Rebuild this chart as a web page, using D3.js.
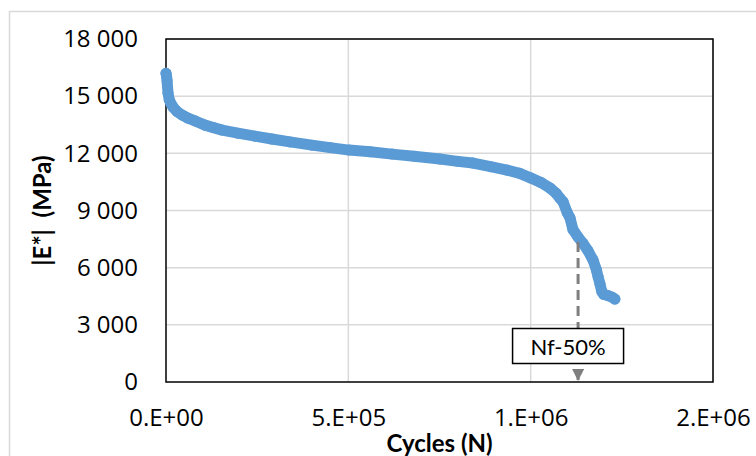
<!DOCTYPE html>
<html>
<head>
<meta charset="utf-8">
<script src="https://cdn.jsdelivr.net/npm/d3@7"></script>
<style>
  body { margin: 0; background: #fff; }
  .tick text { font-family: "Open Sans", sans-serif; font-size: 24px; fill: #000; }
  .title { font-family: Lato, "Open Sans", sans-serif; font-weight: bold; font-size: 24px; fill: #000; }
</style>
</head>
<body>
<div id="chart"></div>
<script>
// values
var cycles = [0, 1500, 3000, 5500, 9000, 14000, 19000, 30000, 45000, 60000, 80000, 107000,
    130000, 154000, 197000, 244000, 290000, 340000, 400000, 450000, 502000, 560000, 620000,
    680000, 751000, 800000, 842000, 890000, 935000, 970000, 1001000, 1030000, 1053000,
    1070000, 1080000, 1089000, 1100000, 1108000, 1116000, 1130000, 1143000, 1157000,
    1171000, 1180000, 1185000, 1190000, 1195000, 1200000, 1210000, 1223000, 1231000];
var modulus = [16200, 16050, 15800, 15160, 14800, 14600, 14430, 14200, 14000, 13850, 13700, 13480,
    13350, 13220, 13060, 12900, 12750, 12600, 12430, 12300, 12170, 12080, 11960,
    11850, 11700, 11580, 11490, 11300, 11120, 10950, 10700, 10450, 10180,
    9900, 9650, 9450, 8900, 8600, 8000, 7600, 7290, 6900,
    6400, 5900, 5510, 5150, 4750, 4600, 4550, 4450, 4350];

var xTicks = [0, 500000, 1000000, 1500000];
var yTicks = [0, 3000, 6000, 9000, 12000, 15000, 18000];

var nf50Cycles = 1130000, nf50From = 7350;
var nf50Label = "Nf-50%";

var data = cycles.map(function (c, i) { return { n: c, e: modulus[i] }; });

var svg = d3.select("#chart").append("svg")
    .attr("width", 756)
    .attr("height", 456),
    margin = { top: 39, right: 43, bottom: 74, left: 166 },
    width = 756 - margin.left - margin.right,
    height = 456 - margin.top - margin.bottom;

// outer chart frame
svg.append("rect")
    .attr("x", 9.5).attr("y", 11.5)
    .attr("width", 800).attr("height", 500)
    .attr("fill", "none")
    .attr("stroke", "#d9d9d9")
    .attr("stroke-width", 1.5);

var x = d3.scaleLinear().domain([0, 1500000]).range([0, width]),
    y = d3.scaleLinear().domain([0, 18000]).range([height, 0]);

var loc = d3.formatLocale({ decimal: ".", thousands: " ", grouping: [3], currency: ["", ""] });
var yFmt = loc.format(",");

// Excel style 0.E+00
function sci(v) {
    if (v === 0) return "0.E+00";
    var ex = Math.floor(Math.log10(v)), m = Math.round(v / Math.pow(10, ex));
    if (m === 10) { m = 1; ex++; }
    return m + ".E+" + (ex < 10 ? "0" : "") + ex;
}

var g = svg.append("g")
    .attr("transform", "translate(" + margin.left + "," + margin.top + ")");

// grid
g.append("g")
    .selectAll("line.h").data(yTicks.slice(1)).enter().append("line")
    .attr("x1", 0).attr("x2", width)
    .attr("y1", function (d) { return y(d); }).attr("y2", function (d) { return y(d); })
    .attr("stroke", "#d9d9d9").attr("stroke-width", 1.5);
g.append("g")
    .selectAll("line.v").data(xTicks.slice(1)).enter().append("line")
    .attr("y1", 0).attr("y2", height)
    .attr("x1", function (d) { return x(d); }).attr("x2", function (d) { return x(d); })
    .attr("stroke", "#d9d9d9").attr("stroke-width", 1.5);

// axes (labels only)
var yAxis = g.append("g")
    .call(d3.axisLeft(y).tickValues(yTicks).tickFormat(yFmt).tickSize(0).tickPadding(28));
yAxis.select(".domain").remove();

var xAxis = g.append("g")
    .attr("transform", "translate(0," + height + ")")
    .call(d3.axisBottom(x).tickValues(xTicks).tickFormat(sci).tickSize(0).tickPadding(27));
xAxis.select(".domain").remove();

// plot frame
g.append("rect")
    .attr("width", width).attr("height", height)
    .attr("fill", "none")
    .attr("stroke", "#000")
    .attr("stroke-width", 1.5);

// series: dense markers
var line = d3.line()
    .x(function (d) { return x(d.n); })
    .y(function (d) { return y(d.e); });

g.append("path")
    .datum(data)
    .attr("d", line)
    .attr("fill", "none")
    .attr("stroke", "#5b9bd5")
    .attr("stroke-width", 11)
    .attr("stroke-linejoin", "round")
    .attr("stroke-linecap", "round");

g.selectAll("circle").data(data).enter().append("circle")
    .attr("cx", function (d) { return x(d.n); })
    .attr("cy", function (d) { return y(d.e); })
    .attr("r", 5.5)
    .attr("fill", "#5b9bd5");

// Nf-50% annotation
var defs = svg.append("defs");
defs.append("marker")
    .attr("id", "arr")
    .attr("viewBox", "0 0 10 10")
    .attr("refX", 10).attr("refY", 5)
    .attr("markerWidth", 4).attr("markerHeight", 4)
    .attr("markerUnits", "strokeWidth")
    .attr("orient", "auto")
    .append("path")
    .attr("d", "M0,0L10,5L0,10Z")
    .attr("fill", "#7f7f7f");

var ax = x(nf50Cycles);
g.append("line")
    .attr("x1", ax).attr("x2", ax)
    .attr("y1", y(nf50From)).attr("y2", y(0) - 1)
    .attr("stroke", "#7f7f7f")
    .attr("stroke-width", 3)
    .attr("stroke-dasharray", "10,6")
    .attr("marker-end", "url(#arr)");

var box = g.append("g")
    .attr("transform", "translate(" + (ax - 66) + "," + (height - 54) + ")");
box.append("rect")
    .attr("x", 0.5).attr("y", 0.5)
    .attr("width", 111).attr("height", 35)
    .attr("fill", "#fff")
    .attr("stroke", "#000")
    .attr("stroke-width", 1.5);
box.append("text")
    .attr("x", 56).attr("y", 27)
    .attr("text-anchor", "middle")
    .style("font-family", "Lato, 'Open Sans', sans-serif")
    .style("font-size", "22px")
    .text(nf50Label);

// axis titles
svg.append("text")
    .attr("class", "title")
    .attr("transform", "rotate(-90)")
    .attr("x", -(margin.top + height / 2))
    .attr("y", 51)
    .attr("text-anchor", "middle")
    .text("|E*|  (MPa)")
    .style("white-space", "pre");

svg.append("text")
    .attr("class", "title")
    .attr("x", margin.left + width / 2)
    .attr("y", 452)
    .attr("text-anchor", "middle")
    .text("Cycles (N)");
</script>
</body>
</html>
